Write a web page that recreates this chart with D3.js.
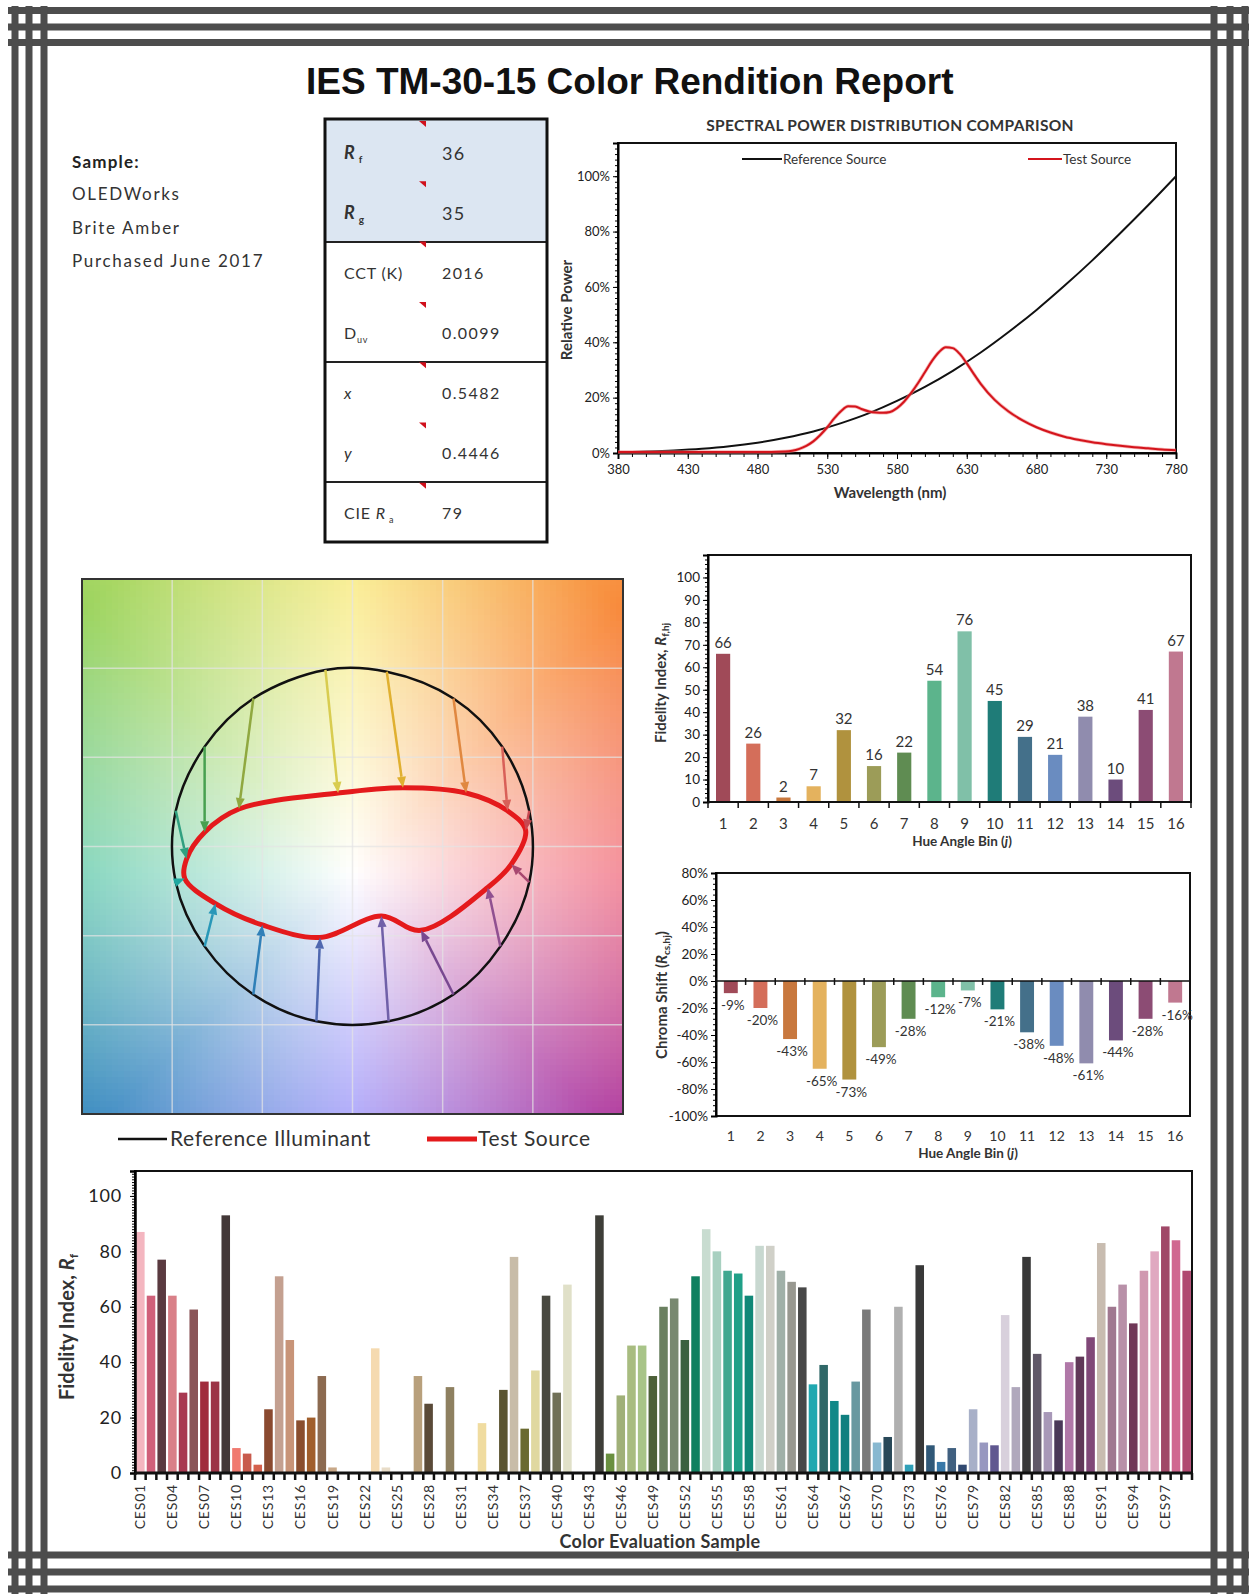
<!DOCTYPE html>
<html><head><meta charset="utf-8">
<script src="https://cdn.jsdelivr.net/npm/d3@7"></script>
<style>
body{margin:0;background:#fff;}
svg{display:block;}
text{font-family:Lato,"Open Sans",sans-serif;fill:#222;}
</style></head><body>
<svg id="c" width="1249" height="1594"></svg>
<script>
// ---------------- DATA ----------------
const titleText = "IES TM-30-15 Color Rendition Report";
const sampleHeader = "Sample:";
const sampleLines = ["OLEDWorks", "Brite Amber", "Purchased June 2017"];
const tableValues = ["36", "35", "2016", "0.0099", "0.5482", "0.4446", "79"];

const spdWl = [380,400,420,440,460,480,500,520,540,560,580,600,620,640,660,680,700,720,740,760,780];
const spdRef = [0.2,0.5,0.9,1.5,2.4,3.7,5.5,7.8,10.8,14.4,18.8,23.9,29.7,36.3,43.7,51.7,60.4,69.6,79.4,89.5,100];
const spdTestWl = [380,420,460,490,500,505,510,515,520,525,530,535,540,545,550,555,560,565,570,575,580,585,590,595,600,605,610,615,620,625,630,635,640,650,660,670,680,690,700,710,720,730,740,750,760,770,780];
const spdTest = [0.4,0.4,0.4,0.4,0.5,0.8,1.5,2.6,4.2,6.5,9.3,12.5,15.2,16.9,16.8,15.8,15.0,14.6,14.5,14.8,16.2,18.5,21.6,25.2,29.2,33.2,36.4,38.2,37.9,35.8,32.4,28.6,25.0,19.2,15.0,11.8,9.3,7.4,5.9,4.8,3.9,3.2,2.6,2.1,1.7,1.3,1.0];
const spdYTicks = [0,20,40,60,80,100];
const spdXTicks = [380,430,480,530,580,630,680,730,780];

const hueBins = [1,2,3,4,5,6,7,8,9,10,11,12,13,14,15,16];
const fidelityByBin = [66,26,2,7,32,16,22,54,76,45,29,21,38,10,41,67];
const chromaByBin = [-9,-20,-43,-65,-73,-49,-28,-12,-7,-21,-38,-48,-61,-44,-28,-16];
const binColors = ["#a04a58","#d46e5a","#c8783e","#e4b25e","#b0923e","#9c9c58","#5f8c52","#5cb48c",
                   "#80c0a8","#1f7c78","#44708a","#6a8cc0","#908cae","#6c4c7c","#8c4c74","#c07890"];
const arrowColors = ["#c84850","#d86058","#e08840","#e0b030","#d8cc50","#90a840","#48a050","#30a080",
                     "#20a8a0","#2898b8","#3080b8","#5068b0","#7060a8","#784890","#905090","#a84870"];
// vector graphic: reference and test coordinates per hue bin (normalised a', b')
const refX = [0.98,0.83,0.56,0.19,-0.15,-0.55,-0.82,-0.98,-0.98,-0.82,-0.55,-0.20,0.20,0.56,0.82,0.98];
const refY = [0.20,0.56,0.83,0.98,0.99,0.83,0.56,0.20,-0.20,-0.56,-0.83,-0.98,-0.98,-0.83,-0.56,-0.20];
const testX = [0.96,0.86,0.63,0.28,-0.08,-0.63,-0.82,-0.92,-0.93,-0.76,-0.50,-0.18,0.16,0.38,0.75,0.88];
const testY = [0.09,0.20,0.30,0.33,0.30,0.21,0.08,-0.07,-0.18,-0.32,-0.44,-0.51,-0.39,-0.47,-0.23,-0.10];
const gridTicks = [-1,-0.5,0,0.5,1];

const cesFidelity = [87,64,77,64,29,59,33,33,93,9,
  7,3,23,71,48,19,20,35,2,0,
  0,0,45,2,0,0,35,25,0,31,
  0,0,18,0,30,78,16,37,64,29,
  68,0,0,93,7,28,46,46,35,60,
  63,48,71,88,80,73,72,64,82,82,
  73,69,67,32,39,26,21,33,59,11,
  13,60,3,75,10,4,9,3,23,11,
  10,57,31,78,43,22,19,40,42,49,
  83,60,68,54,73,80,89,84,73];
const cesColors = ["#f4b6c0","#d0607a","#5a3a40","#d98088","#a83850","#8a5558","#a02c3c","#9c3446","#433838","#f07a70",
  "#c85a4c","#d4604c","#8a4a30","#c4a090","#c89478","#8a4e2e","#a05e2c","#8c6a50","#c8a888","#e0c8a8",
  "#d8b890","#f0d0a0","#f5dab0","#e8dcc8","#d8c0a0","#c0a880","#b8a07c","#5a4a38","#a89870","#8e8060",
  "#c0b080","#e0d090","#f0dca0","#a09050","#5a5430","#c8bca8","#6a6a30","#e0d8a0","#484840","#707058",
  "#e0e0c8","#b0b090","#d0d8b0","#3e3e38","#6a9040","#a0b078","#a8bc80","#a8c488","#4c6038","#6a8060",
  "#788870","#3a6040","#108060","#c8dcd0","#a8d0c0","#40a890","#20a088","#108878","#c8d8d0","#d0d0c8",
  "#a0b0a8","#989890","#484848","#20a8b0","#306868","#108888","#108080","#6898a0","#7a7a7a","#88b8d0",
  "#284858","#b0b0b0","#30a0b8","#383838","#305878","#3878a8","#406080","#304870","#a8b0c8","#9898c0",
  "#605890","#d8d0dc","#b0a8bc","#383838","#605868","#a898b8","#4a3858","#b078a8","#603858","#804878",
  "#c8bcb0","#a07890","#b890a8","#703858","#d098b0","#e0a8c0","#a04868","#d06890","#b04870"];
const cesNames = cesFidelity.map((d,i)=>"CES"+String(i+1).padStart(2,"0"));

// ---------------- DRAW ----------------
const svg = d3.select("#c");
svg.append("rect").attr("width",1249).attr("height",1594).attr("fill","#fff");

// border
const bc = "#4d4d4d";
[10.5,27,42.5,1555,1572,1589].forEach(y=>svg.append("line").attr("x1",8).attr("x2",1249).attr("y1",y).attr("y2",y).attr("stroke",bc).attr("stroke-width",7));
[15,29,44,1214,1230,1245].forEach(x=>svg.append("line").attr("y1",6).attr("y2",1594).attr("x1",x).attr("x2",x).attr("stroke",bc).attr("stroke-width",7));

// title
svg.append("text").attr("x",306).attr("y",94)
  .style("font-family","'Liberation Sans',Arial,sans-serif").style("font-weight","bold").style("font-size","37px")
  .style("fill","#111").text(titleText);

// sample block
svg.append("text").attr("x",72).attr("y",168).style("font-weight","bold").style("font-size","17px").style("letter-spacing","1.2px").text(sampleHeader);
sampleLines.forEach((t,i)=>svg.append("text").attr("x",72).attr("y",200+i*33.5).style("font-size","17px").style("letter-spacing","1.7px").style("fill","#333").text(t));

// table
const tb = svg.append("g");
tb.append("rect").attr("x",325).attr("y",119).attr("width",222).attr("height",123).attr("fill","#dce6f2");
[242,362,482].forEach(y=>tb.append("line").attr("x1",325).attr("x2",547).attr("y1",y).attr("y2",y).attr("stroke","#222").attr("stroke-width",2));
tb.append("rect").attr("x",325).attr("y",119).attr("width",222).attr("height",423).attr("fill","none").attr("stroke","#111").attr("stroke-width",3);
const rowY = i => 159 + i*60;
function lbl(i){ return tb.append("text").attr("x",344).attr("y",rowY(i)).style("font-size","16px").style("letter-spacing","0.8px").style("fill","#333"); }
let t;
t = lbl(0); t.append("tspan").style("font-weight","bold").style("font-style","italic").style("font-size","18px").text("R");
t.append("tspan").attr("dy",4).style("font-size","10px").style("font-weight","bold").text(" f");
t = lbl(1); t.append("tspan").style("font-weight","bold").style("font-style","italic").style("font-size","18px").text("R");
t.append("tspan").attr("dy",4).style("font-size","10px").style("font-weight","bold").text(" g");
lbl(2).text("CCT (K)");
t = lbl(3); t.append("tspan").text("D"); t.append("tspan").attr("dy",4).style("font-size","9px").text("uv");
lbl(4).style("font-style","italic").text("x");
lbl(5).style("font-style","italic").text("y");
t = lbl(6); t.append("tspan").text("CIE "); t.append("tspan").style("font-style","italic").text("R");
t.append("tspan").attr("dy",4).style("font-size","9px").text(" a");
tableValues.forEach((v,i)=>tb.append("text").attr("x",442).attr("y",rowY(i)+(i<2?1:0)).style("font-size",i<2?"18px":"16px").style("letter-spacing","1.4px").style("fill","#333").text(v));
tableValues.forEach((v,i)=>{const x=423,y=121+i*60.3;
  tb.append("path").attr("d",`M${x-4},${y}L${x+3},${y}L${x+3},${y+6}Z`).attr("fill","#d0101c");});

// ---------- SPD chart ----------
const sX = d3.scaleLinear().domain([380,780]).range([618,1176]);
const sY = d3.scaleLinear().domain([0,112]).range([453,143]);
const spd = svg.append("g");
spd.append("text").attr("x",890).attr("y",131).attr("text-anchor","middle").style("font-weight","bold").style("font-size","15.5px").style("letter-spacing","0.3px").style("fill","#333").text("SPECTRAL POWER DISTRIBUTION COMPARISON");
spd.append("rect").attr("x",618).attr("y",143).attr("width",558).attr("height",310).attr("fill","none").attr("stroke","#111").attr("stroke-width",2);
spd.append("g").attr("transform","translate(618,0)").call(d3.axisLeft(sY).tickValues(d3.range(0,112,2)).tickSize(3).tickFormat("")).call(g=>g.select(".domain").remove());
spd.append("g").attr("transform","translate(618,0)").call(d3.axisLeft(sY).tickValues(spdYTicks).tickSize(5).tickFormat(d=>d+"%"))
  .call(g=>{g.select(".domain").attr("stroke-width",2);g.selectAll("text").style("font-size","13px").style("font-family","Lato").attr("fill","#333");});
spd.append("g").attr("transform","translate(0,453)").call(d3.axisBottom(sX).tickValues(d3.range(380,781,10)).tickSize(4).tickFormat("")).call(g=>g.select(".domain").remove());
spd.append("g").attr("transform","translate(0,453)").call(d3.axisBottom(sX).tickValues(spdXTicks).tickSize(6).tickPadding(6))
  .call(g=>{g.select(".domain").attr("stroke-width",2);g.selectAll("text").style("font-size","13px").style("font-family","Lato").attr("fill","#333");});
const refLine = d3.line().x((d,i)=>sX(spdWl[i])).y(d=>sY(d)).curve(d3.curveMonotoneX);
spd.append("path").datum(spdRef).attr("d",refLine).attr("fill","none").attr("stroke","#111").attr("stroke-width",2);
const testLine = d3.line().x((d,i)=>sX(spdTestWl[i])).y(d=>sY(d)).curve(d3.curveMonotoneX);
spd.append("path").datum(spdTest).attr("d",testLine).attr("fill","none").attr("stroke","#f08080").attr("stroke-width",3.5).attr("opacity",0.6);
spd.append("path").datum(spdTest).attr("d",testLine).attr("fill","none").attr("stroke","#d4141c").attr("stroke-width",2);
spd.append("line").attr("x1",742).attr("x2",782).attr("y1",159).attr("y2",159).attr("stroke","#111").attr("stroke-width",2);
spd.append("text").attr("x",783).attr("y",163.5).style("font-size","13.5px").style("fill","#333").text("Reference Source");
spd.append("line").attr("x1",1028).attr("x2",1062).attr("y1",159).attr("y2",159).attr("stroke","#d4141c").attr("stroke-width",2);
spd.append("text").attr("x",1063).attr("y",163.5).style("font-size","13.5px").style("fill","#333").text("Test Source");
spd.append("text").attr("x",890).attr("y",498).attr("text-anchor","middle").style("font-weight","bold").style("font-size","15px").style("fill","#333").text("Wavelength (nm)");
spd.append("text").attr("transform","translate(572,310) rotate(-90)").attr("text-anchor","middle").style("font-weight","bold").style("font-size","15px").style("fill","#333").text("Relative Power");

// ---------- Vector graphic ----------
const gX = d3.scaleLinear().domain([-1.5,1.5]).range([82,623]);
const gY = d3.scaleLinear().domain([-1.5,1.5]).range([1114,579]);
const vg = svg.append("g");
const hueAnchors = [[0,"#f0687a"],[45,"#f88a3c"],[90,"#f8ea7c"],[135,"#9cd460"],[180,"#5cc8a8"],[225,"#3686c0"],[270,"#8c84f8"],[315,"#ac38a0"],[360,"#f0687a"]];
function hueColor(a){
  for(let k=0;k<hueAnchors.length-1;k++){
    if(a>=hueAnchors[k][0] && a<=hueAnchors[k+1][0]){
      const tt=(a-hueAnchors[k][0])/(hueAnchors[k+1][0]-hueAnchors[k][0]);
      return d3.interpolateRgb(hueAnchors[k][1],hueAnchors[k+1][1])(tt);
    }
  }
  return hueAnchors[0][1];
}
const cell = 6;
const cells = [];
for(let px=82; px<623; px+=cell){ for(let py=579; py<1114; py+=cell){ cells.push([px,py]); } }
vg.selectAll("rect.bg").data(cells).join("rect").attr("class","bg")
  .attr("x",d=>d[0]).attr("y",d=>d[1]).attr("width",d=>Math.min(cell+0.6,623-d[0])).attr("height",d=>Math.min(cell+0.6,1114-d[1]))
  .attr("fill",d=>{const u=gX.invert(d[0]+cell/2), v=gY.invert(d[1]+cell/2);
     let a=Math.atan2(v+0.15,u)*180/Math.PI; if(a<0)a+=360;
     const r=Math.hypot(u,v+0.15); const tt=Math.min(1,Math.pow(r/2.1,0.95));
     return d3.interpolateRgb("#ffffff",hueColor(a))(tt);})
  .attr("shape-rendering","crispEdges");
gridTicks.forEach(v=>{
  vg.append("line").attr("x1",gX(v)).attr("x2",gX(v)).attr("y1",579).attr("y2",1114).attr("stroke","#e4e4e4").attr("stroke-opacity",0.7).attr("stroke-width",1.5);
  vg.append("line").attr("y1",gY(v)).attr("y2",gY(v)).attr("x1",82).attr("x2",623).attr("stroke","#e4e4e4").attr("stroke-opacity",0.7).attr("stroke-width",1.5);
});
vg.append("rect").attr("x",82).attr("y",579).attr("width",541).attr("height",535).attr("fill","none").attr("stroke","#333").attr("stroke-width",2);
const closed = d3.line().x(d=>gX(d[0])).y(d=>gY(d[1])).curve(d3.curveCatmullRomClosed.alpha(0.5));
vg.append("path").datum(refX.map((x,i)=>[x,refY[i]])).attr("d",closed).attr("fill","none").attr("stroke","#111").attr("stroke-width",2.5);
vg.append("path").datum(testX.map((x,i)=>[x,testY[i]])).attr("d",closed).attr("fill","none").attr("stroke","#e41a1c").attr("stroke-width",5).attr("stroke-linejoin","round");
hueBins.forEach((b,i)=>{
  const x1=gX(refX[i]),y1=gY(refY[i]),x2=gX(testX[i]),y2=gY(testY[i]);
  const ang=Math.atan2(y2-y1,x2-x1), L=11, Wd=4.5;
  const bx=x2-L*Math.cos(ang), by=y2-L*Math.sin(ang);
  vg.append("line").attr("x1",x1).attr("y1",y1).attr("x2",bx).attr("y2",by).attr("stroke",arrowColors[i]).attr("stroke-width",2.5);
  vg.append("path").attr("d",`M${x2},${y2}L${bx+Wd*Math.sin(ang)},${by-Wd*Math.cos(ang)}L${bx-Wd*Math.sin(ang)},${by+Wd*Math.cos(ang)}Z`).attr("fill",arrowColors[i]);
});
vg.append("line").attr("x1",118).attr("x2",167).attr("y1",1139).attr("y2",1139).attr("stroke","#111").attr("stroke-width",2.5);
vg.append("text").attr("x",170).attr("y",1146).style("font-size","21px").style("letter-spacing","0.6px").style("fill","#333").text("Reference Illuminant");
vg.append("line").attr("x1",427).attr("x2",477).attr("y1",1139).attr("y2",1139).attr("stroke","#e41a1c").attr("stroke-width",5);
vg.append("text").attr("x",478).attr("y",1146).style("font-size","21px").style("letter-spacing","0.6px").style("fill","#333").text("Test Source");

// ---------- Fidelity by hue bin ----------
const fX = d3.scaleBand().domain(hueBins).range([708,1191]).paddingInner(0.53).paddingOuter(0.265);
const fY = d3.scaleLinear().domain([0,110]).range([802,555]);
const fg = svg.append("g");
fg.append("rect").attr("x",708).attr("y",555).attr("width",483).attr("height",247).attr("fill","none").attr("stroke","#111").attr("stroke-width",2);
fg.append("g").attr("transform","translate(708,0)").call(d3.axisLeft(fY).tickValues(d3.range(0,110,2)).tickSize(3).tickFormat("")).call(g=>g.select(".domain").remove());
fg.append("g").attr("transform","translate(708,0)").call(d3.axisLeft(fY).tickValues(d3.range(0,101,10)).tickSize(5))
  .call(g=>{g.select(".domain").attr("stroke-width",2);g.selectAll("text").style("font-size","13.5px").style("font-family","Lato").attr("fill","#333");});
fg.selectAll("rect.b").data(fidelityByBin).join("rect").attr("x",(d,i)=>fX(hueBins[i])).attr("width",fX.bandwidth())
  .attr("y",d=>fY(d)).attr("height",d=>fY(0)-fY(d)).attr("fill",(d,i)=>binColors[i]);
fg.selectAll("text.v").data(fidelityByBin).join("text").attr("x",(d,i)=>fX(hueBins[i])+fX.bandwidth()/2).attr("y",d=>fY(d)-6)
  .attr("text-anchor","middle").style("font-size","15px").style("fill","#333").text(d=>d);
fg.append("line").attr("x1",708).attr("x2",1191).attr("y1",802).attr("y2",802).attr("stroke","#111").attr("stroke-width",2);
d3.range(0,17).forEach(k=>fg.append("line").attr("x1",708+k*fX.step()).attr("x2",708+k*fX.step()).attr("y1",802).attr("y2",808).attr("stroke","#111").attr("stroke-width",1.5));
fg.selectAll("text.x").data(hueBins).join("text").attr("x",d=>fX(d)+fX.bandwidth()/2).attr("y",829).attr("text-anchor","middle").style("font-size","15px").style("fill","#333").text(d=>d);
t = fg.append("text").attr("x",962).attr("y",846).attr("text-anchor","middle").style("font-weight","bold").style("font-size","13.5px").style("fill","#333");
t.append("tspan").text("Hue Angle Bin ("); t.append("tspan").style("font-style","italic").text("j"); t.append("tspan").text(")");
t = fg.append("text").attr("transform","translate(666,683) rotate(-90)").attr("text-anchor","middle").style("font-weight","bold").style("font-size","15px").style("fill","#333");
t.append("tspan").text("Fidelity Index, "); t.append("tspan").style("font-style","italic").text("R");
t.append("tspan").attr("dy",3).style("font-size","10px").text("f,hj");

// ---------- Chroma shift ----------
const cX = d3.scaleBand().domain(hueBins).range([716,1190]).paddingInner(0.53).paddingOuter(0.265);
const cY = d3.scaleLinear().domain([-100,80]).range([1116,873]);
const cg = svg.append("g");
cg.append("rect").attr("x",716).attr("y",873).attr("width",474).attr("height",243).attr("fill","none").attr("stroke","#111").attr("stroke-width",2);
cg.append("g").attr("transform","translate(716,0)").call(d3.axisLeft(cY).tickValues(d3.range(-100,81,4)).tickSize(3).tickFormat("")).call(g=>g.select(".domain").remove());
cg.append("g").attr("transform","translate(716,0)").call(d3.axisLeft(cY).tickValues(d3.range(-100,81,20)).tickSize(5).tickFormat(d=>d+"%"))
  .call(g=>{g.select(".domain").attr("stroke-width",2);g.selectAll("text").style("font-size","13.5px").style("font-family","Lato").attr("fill","#333");});
cg.selectAll("rect.b").data(chromaByBin).join("rect").attr("x",(d,i)=>cX(hueBins[i])).attr("width",cX.bandwidth())
  .attr("y",d=>cY(Math.max(0,d))).attr("height",d=>Math.abs(cY(d)-cY(0))).attr("fill",(d,i)=>binColors[i]);
cg.append("line").attr("x1",716).attr("x2",1190).attr("y1",cY(0)).attr("y2",cY(0)).attr("stroke","#111").attr("stroke-width",1.5);
d3.range(0,17).forEach(k=>cg.append("line").attr("x1",716+k*cX.step()).attr("x2",716+k*cX.step()).attr("y1",cY(0)-3).attr("y2",cY(0)+4).attr("stroke","#111").attr("stroke-width",1.5));
cg.selectAll("text.v").data(chromaByBin).join("text").attr("x",(d,i)=>cX(hueBins[i])+cX.bandwidth()/2+2).attr("y",d=>cY(d)+17)
  .attr("text-anchor","middle").style("font-size","13.5px").style("fill","#333").text(d=>d+"%");
cg.selectAll("text.x").data(hueBins).join("text").attr("x",d=>cX(d)+cX.bandwidth()/2).attr("y",1141).attr("text-anchor","middle").style("font-size","14px").style("fill","#333").text(d=>d);
t = cg.append("text").attr("x",968).attr("y",1158).attr("text-anchor","middle").style("font-weight","bold").style("font-size","13.5px").style("fill","#333");
t.append("tspan").text("Hue Angle Bin ("); t.append("tspan").style("font-style","italic").text("j"); t.append("tspan").text(")");
t = cg.append("text").attr("transform","translate(667,995) rotate(-90)").attr("text-anchor","middle").style("font-weight","bold").style("font-size","15px").style("fill","#333");
t.append("tspan").text("Chroma Shift ("); t.append("tspan").style("font-style","italic").text("R");
t.append("tspan").attr("dy",3).style("font-size","10px").text("cs,hj"); t.append("tspan").attr("dy",-3).text(")");

// ---------- CES chart ----------
const eX = d3.scaleBand().domain(cesNames).range([135,1192]).paddingInner(0.2).paddingOuter(0.1);
const eY = d3.scaleLinear().domain([0,109]).range([1473,1171]);
const eg = svg.append("g");
eg.append("rect").attr("x",135).attr("y",1171).attr("width",1057).attr("height",302).attr("fill","none").attr("stroke","#111").attr("stroke-width",2);
eg.selectAll("rect.b").data(cesFidelity).join("rect").attr("x",(d,i)=>eX(cesNames[i])).attr("width",eX.bandwidth())
  .attr("y",d=>eY(d)).attr("height",d=>eY(0)-eY(d)).attr("fill",(d,i)=>cesColors[i]);
eg.append("g").attr("transform","translate(135,0)").call(d3.axisLeft(eY).tickValues(d3.range(0,109,1)).tickSize(3).tickFormat("")).call(g=>g.select(".domain").remove());
eg.append("g").attr("transform","translate(135,0)").call(d3.axisLeft(eY).tickValues([0,20,40,60,80,100]).tickSize(5).tickPadding(8))
  .call(g=>{g.select(".domain").attr("stroke-width",2.5);g.selectAll("text").style("font-size","18px").style("letter-spacing","0.8px").style("font-family","Lato").attr("fill","#333");});
eg.append("line").attr("x1",135).attr("x2",1192).attr("y1",1473).attr("y2",1473).attr("stroke","#111").attr("stroke-width",3);
d3.range(0,100).forEach(k=>eg.append("line").attr("x1",135+eX.step()*k).attr("x2",135+eX.step()*k).attr("y1",1473).attr("y2",1480).attr("stroke","#111").attr("stroke-width",2.5));
eg.selectAll("text.x").data(cesNames.filter((d,i)=>i%3===0)).join("text")
  .attr("transform",d=>`translate(${eX(d)+eX.bandwidth()/2+5},1484) rotate(-90)`).attr("text-anchor","end")
  .style("font-size","14px").style("letter-spacing","0.8px").style("fill","#333").text(d=>d);
eg.append("text").attr("x",660).attr("y",1548).attr("text-anchor","middle").style("font-weight","bold").style("font-size","18px").style("letter-spacing","0.3px").style("fill","#333").text("Color Evaluation Sample");
t = eg.append("text").attr("transform","translate(74,1327) rotate(-90)").attr("text-anchor","middle").style("font-weight","bold").style("font-size","20px").style("fill","#333");
t.append("tspan").text("Fidelity Index, "); t.append("tspan").style("font-style","italic").text("R");
t.append("tspan").attr("dy",4).style("font-size","12px").text("f");
</script>
</body></html>
